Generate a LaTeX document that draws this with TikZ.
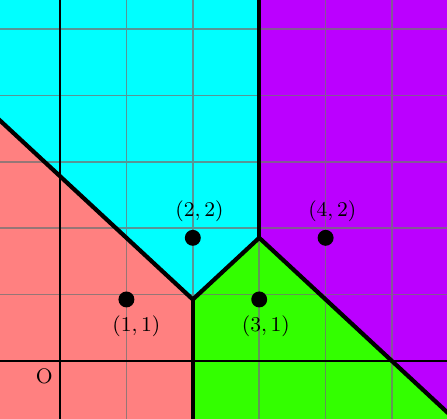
\documentclass[tikz,border=0pt]{standalone}
\usepackage{tikz}
\usetikzlibrary{positioning}
\definecolor{cellred}{RGB}{255,128,128}
\definecolor{cellcyan}{RGB}{0,255,255}
\definecolor{cellviolet}{RGB}{187,0,255}
\definecolor{cellgreen}{RGB}{51,255,0}

\begin{document}
\begin{tikzpicture}[x=1cm, y=0.928cm,
  gridline/.style={gray!90!black, opacity=0.75, line width=0.7pt},
  axis/.style={black, line width=0.9pt},
  edge/.style={black, line width=1.8pt, line join=round},
  site/.style={circle, fill=black, inner sep=0pt, minimum size=0.24cm},
  lbl/.style={font=\small, inner sep=2pt, xshift=1mm}]
  \useasboundingbox (-0.904,-0.925) rectangle (5.828,5.860);
  \clip (-0.904,-0.925) rectangle (5.828,5.860);
  % Voronoi vertices and far ends of the rays
  \coordinate (va) at (2,1);
  \coordinate (vb) at (3,2);
  \coordinate (ra) at (-2,5);
  \coordinate (rb) at (2,-2);
  \coordinate (rc) at (3,7);
  \coordinate (rd) at (8,-3);
  % cells
  \fill[cellred]    (ra) -- (va) -- (rb) -- (-2,-2) -- cycle;
  \fill[cellcyan]   (ra) -- (va) -- (vb) -- (rc) -- (-2,7) -- cycle;
  \fill[cellviolet] (rc) -- (vb) -- (rd) -- (8,7) -- cycle;
  \fill[cellgreen]  (rb) -- (va) -- (vb) -- (rd) -- cycle;
  \draw[gridline] (-2,-2) grid (7,7);
  % axes
  \coordinate (orig) at (0,0);
  \draw[axis] (-2,0) -- (7,0);
  \draw[axis] (0,-2) -- (0,7);
  % cell borders
  \draw[edge] (ra) -- (va) -- (vb) -- (rd);
  \draw[edge] (rb) -- (va);
  \draw[edge] (vb) -- (rc);
  % sites
  \node[site] (p11) at (1,1) {};
  \node[site] (p22) at (2,2) {};
  \node[site] (p31) at (3,1) {};
  \node[site] (p42) at (4,2) {};
  \node[lbl, below=1pt of p11, xshift=0.5mm] (l11) {$(1,1)$};
  \node[lbl, above=1pt of p22] (l22) {$(2,2)$};
  \node[lbl, below=1pt of p31] (l31) {$(3,1)$};
  \node[lbl, above=1pt of p42] (l42) {$(4,2)$};
  \node[font=\small, below left=0pt of orig, inner sep=3pt] (o) {O};
\end{tikzpicture}
\end{document}
